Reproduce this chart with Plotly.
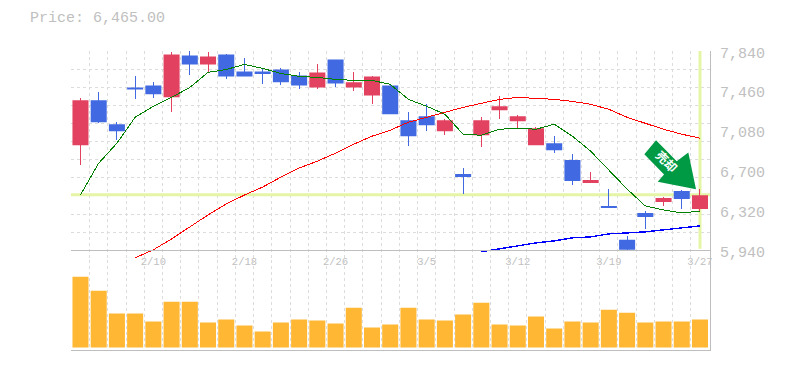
import plotly.graph_objects as go

open_ = [6942,7370,7142,7493,7512,7398,7797,7712,7807,7645,7645,7664,7607,7493,7759,7493,7417,7512,7180,7218,7075,6667,7037,7275,7170,6942,6961,6800,6581,6363,6040,6296,6401,6505,6334]
high = [7389,7446,7161,7598,7541,7835,7845,7826,7816,7769,7674,7674,7636,7712,7759,7636,7598,7512,7256,7332,7189,6724,7208,7408,7227,7113,7028,6857,6686,6524,6078,6315,6448,6515,6524]
low = [6752,7151,6990,7379,7389,7256,7607,7636,7569,7598,7522,7512,7474,7474,7493,7455,7332,7237,6933,7075,7037,6477,6923,7189,7094,6942,6866,6562,6581,6344,5935,6144,6363,6334,6306]
close = [7370,7161,7075,7474,7427,7807,7712,7788,7598,7598,7626,7541,7512,7636,7531,7541,7598,7237,7028,7132,7180,6638,7180,7313,7218,7104,6895,6600,6610,6344,5945,6258,6439,6429,6465]
ma_green = [6467,6771,6961,7208,7313,7398,7493,7636,7664,7712,7674,7626,7598,7588,7569,7560,7560,7522,7379,7313,7237,7047,7037,7094,7104,7094,7142,7028,6885,6705,6524,6363,6325,6296,6315]
ma_red = [5869,5945,6049,6163,6277,6382,6467,6543,6638,6724,6790,6866,6952,7028,7085,7161,7208,7256,7303,7341,7379,7398,7389,7379,7360,7332,7284,7208,7151,7094,7047,7009]
ma_blue = [5926,5954,5983,6011,6030,6059,6068,6097,6106,6116,6135,6154,6173]
volume = [71,57,34,34,26,46,46,25,28,22,16,25,28,27,24,40,20,23,40,28,27,33,45,23,22,31,19,26,25,38,35,25,26,26,28]
x_tick_pos = [4,9,14,19,24,29,34]
x_tick_labels = ["2/10","2/18","2/26","3/5","3/12","3/19","3/27"]
y_tick_vals = [7840,7460,7080,6700,6320,5940]
y_tick_labels = ["7,840","7,460","7,080","6,700","6,320","5,940"]
last_price = 6465
title_text = "Price: 6,465.00"
arrow_text = "売却"

W, H = 785, 370
L, R, T, B = 70.5, 710.0, 50.5, 350.5
MONO = "Liberation Mono"
GRAY = "#c0c0c0"
GRID = "#dcdcdc"
AXIS = "#bebebe"
RED = "#e2415f"
BLUE = "#4169e1"
PALE = "#e4f5a6"
ORANGE = "#ffb734"
ARROW = "#009944"

n = len(close)
idx = list(range(n))
xr = [-0.52, 34.55]
y_range = [5845, 7840]
split = 0.3   # fraction of the plot height held by the volume panel


def wick_xy(ids):
    xs, ys = [], []
    for i in ids:
        xs += [i, i, None]
        ys += [low[i], high[i], None]
    return xs, ys


ups = [i for i in idx if close[i] >= open_[i]]
downs = [i for i in idx if close[i] < open_[i]]

fig = go.Figure()
for ids, col in ((ups, RED), (downs, BLUE)):
    wx, wy = wick_xy(ids)
    fig.add_trace(go.Scatter(x=wx, y=wy, mode="lines", line=dict(color=col, width=1),
                             cliponaxis=False, hoverinfo="skip", showlegend=False))
    fig.add_trace(go.Bar(x=ids,
                         y=[max(abs(close[i]-open_[i]), 10) for i in ids],
                         base=[min(close[i], open_[i]) for i in ids],
                         width=0.88, marker=dict(color=col, line=dict(width=0)),
                         cliponaxis=False, showlegend=False))
fig.add_trace(go.Scatter(x=idx, y=ma_green, mode="lines", line=dict(color="#008000", width=1),
                         cliponaxis=False, showlegend=False))
fig.add_trace(go.Scatter(x=idx[3:], y=ma_red, mode="lines", line=dict(color="#ff0000", width=1),
                         cliponaxis=False, showlegend=False))
fig.add_trace(go.Scatter(x=idx[22:], y=ma_blue, mode="lines", line=dict(color="#0000ff", width=1.4),
                         cliponaxis=False, showlegend=False))
fig.add_trace(go.Bar(x=idx, y=[v*1000 for v in volume], width=0.88,
                     marker=dict(color=ORANGE, line=dict(width=0)),
                     xaxis="x2", yaxis="y2", showlegend=False))


def fx(x):
    return (x-L)/(R-L)


def fy(y):
    return 1-(y-T)/(B-T)


def dx(x):
    return xr[0]+fx(x)*(xr[1]-xr[0])


def dy(y):
    return 7840-(y-T)*9.5


arrow_pts = [(656,140),(676.7,161),(688.3,152.3),(696,189.3),(657.7,181.7),(664,174.3),(644.3,154)]
path = "M " + " L ".join(f"{dx(a):.4f} {dy(b):.2f}" for a, b in arrow_pts) + " Z"

minor_vals = [i-0.5 for i in range(n+1)]


def xaxis(**kw):
    return dict(range=xr, showgrid=False, zeroline=False, showline=True, linecolor=AXIS, linewidth=1,
                minor=dict(tickvals=minor_vals, showgrid=True, gridcolor=GRID, griddash="3px,3px",
                           gridwidth=1, ticks=""),
                **kw)


fig.update_layout(
    width=W, height=H, autosize=False,
    margin=dict(l=L, r=W-R, t=T, b=H-B, pad=0),
    paper_bgcolor="white", plot_bgcolor="white",
    barmode="overlay", showlegend=False, hovermode=False,
    xaxis=xaxis(domain=[0,1], anchor="free", position=1/3, tickmode="array", tickvals=x_tick_pos,
                ticktext=x_tick_labels, tickfont=dict(family=MONO, size=10.5, color=GRAY), ticks="",
                ticklabelstandoff=1),
    xaxis2=xaxis(domain=[0,1], anchor="y2", showticklabels=False, ticks="", tickmode="array", tickvals=[]),
    yaxis=dict(domain=[split,1], range=y_range, anchor="x", side="right", showline=True, linecolor=AXIS,
               linewidth=1, tickmode="array", tickvals=[7840-i*1900/11 for i in range(12)],
               showticklabels=False, ticks="", showgrid=True, gridcolor=GRID, griddash="3px,3px", gridwidth=1,
               zeroline=False),
    yaxis2=dict(domain=[0,split], range=[-2500,87500], anchor="x2", side="right", showline=True, linecolor=AXIS,
                linewidth=1, showticklabels=False, ticks="", showgrid=False, zeroline=False),
    shapes=[
        dict(type="line", xref="x", yref="y", x0=xr[0], x1=xr[1], y0=last_price+5, y1=last_price+5,
             line=dict(color=PALE, width=3), layer="between"),
        dict(type="line", xref="x", yref="y", x0=34, x1=34, y0=5955, y1=7840,
             line=dict(color=PALE, width=3), layer="between"),
        dict(type="path", xref="x", yref="y", path=path, fillcolor=ARROW, line=dict(width=0), layer="between"),
    ],
    annotations=[
        dict(xref="paper", yref="y", x=1, y=v, text=t, showarrow=False, xanchor="left", yanchor="middle",
             xshift=8, yshift=-3, font=dict(family=MONO, size=15, color=GRAY))
        for v, t in zip(y_tick_vals, y_tick_labels)
    ] + [
        dict(xref="paper", yref="paper", x=fx(27), y=fy(18), text=title_text, showarrow=False,
             xanchor="left", yanchor="middle", font=dict(family=MONO, size=15, color=GRAY)),
        dict(xref="paper", yref="paper", x=fx(666.7), y=fy(160.7), text=f"<b>{arrow_text}</b>", showarrow=False,
             xanchor="center", yanchor="middle", textangle=45,
             font=dict(family="Noto Sans CJK JP", size=12, color="white")),
    ],
)
fig.write_html("out.html", config=dict(displayModeBar=False),
               post_script="document.body.style.margin='0';"
                           "var s=document.createElement('style');"
                           "s.textContent='.scatterlayer .lines path{shape-rendering:crispEdges}';"
                           "document.head.appendChild(s);")
